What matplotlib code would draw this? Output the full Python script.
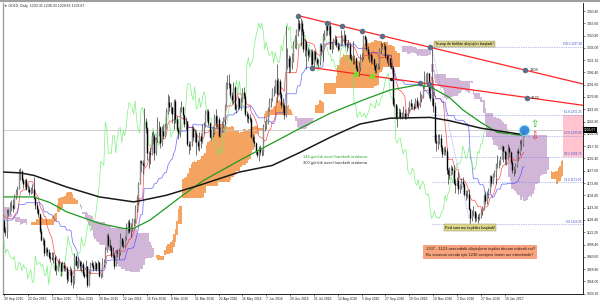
import numpy as np
import pandas as pd
import matplotlib
matplotlib.use("Agg")
import matplotlib.pyplot as plt
from matplotlib.transforms import blended_transform_factory

plt.rcParams['font.family'] = ['Liberation Sans', 'DejaVu Sans']

# closes before the visible window (Jun 8 - Sep 29 2015), only used to warm up the Ichimoku lines
pre_close = [1173, 1185, 1186, 1179, 1180, 1185, 1180, 1180, 1202, 1201,
             1185, 1176, 1175, 1172, 1174, 1179, 1172, 1169, 1167, 1168,
             1173, 1155, 1158, 1160, 1159, 1155, 1155, 1150, 1146, 1133,
             1106, 1103, 1093, 1091, 1086, 1096, 1094, 1096, 1088, 1095,
             1086, 1089, 1085, 1090, 1094, 1104, 1108, 1123, 1115, 1113,
             1118, 1117, 1128, 1153, 1159, 1154, 1138, 1125, 1124, 1134,
             1132, 1140, 1134, 1124, 1121, 1120, 1121, 1103, 1110, 1103,
             1108, 1103, 1119, 1117, 1137, 1132, 1124, 1131, 1153, 1146,
             1132, 1127]

# daily bars 30 Sep 2015 - 7 Feb 2017, one row per 16-bar date label
close = [1115, 1114, 1137, 1137, 1146, 1146, 1143, 1156, 1163, 1166, 1187, 1187, 1177, 1172, 1176, 1166,
         1166, 1162, 1166, 1166, 1155, 1146, 1142, 1135, 1115, 1104, 1104, 1088, 1093, 1090, 1084, 1082,
         1081, 1084, 1068, 1068, 1077, 1076, 1067, 1074, 1070, 1070, 1057, 1064, 1068, 1053, 1054, 1085,
         1074, 1076, 1077, 1072, 1075, 1063, 1061, 1073, 1050, 1065, 1076, 1074, 1069, 1076, 1069, 1077,
         1060, 1061, 1075, 1078, 1092, 1109, 1098, 1096, 1086, 1086, 1073, 1089, 1088, 1089, 1107, 1098,
         1097, 1107, 1120, 1126, 1115, 1117, 1128, 1129, 1141, 1156, 1172, 1199, 1197, 1194, 1247, 1239,
         1209, 1209, 1208, 1230, 1230, 1209, 1226, 1238, 1240, 1221, 1236, 1230, 1241, 1259, 1270, 1265,
         1264, 1256, 1272, 1250, 1238, 1233, 1262, 1264, 1255, 1244, 1248, 1220, 1217, 1222, 1239, 1228,
         1233, 1222, 1218, 1230, 1223, 1238, 1243, 1257, 1260, 1245, 1228, 1234, 1234, 1254, 1245, 1250,
         1230, 1238, 1243, 1250, 1266, 1292, 1293, 1292, 1279, 1273, 1289, 1262, 1265, 1276, 1264, 1272,
         1283, 1278, 1256, 1254, 1251, 1250, 1228, 1224, 1221, 1212, 1206, 1215, 1210, 1210, 1242, 1244,
         1247, 1262, 1270, 1275, 1285, 1285, 1297, 1280, 1296, 1280, 1267, 1266, 1255, 1315, 1324, 1313,
         1318, 1321, 1339, 1349, 1357, 1366, 1359, 1366, 1356, 1334, 1343, 1333, 1327, 1329, 1332, 1317,
         1331, 1323, 1318, 1320, 1339, 1332, 1350, 1352, 1366, 1357, 1362, 1335, 1339, 1346, 1347, 1340,
         1335, 1339, 1347, 1349, 1351, 1340, 1338, 1340, 1324, 1323, 1322, 1324, 1312, 1308, 1313, 1324,
         1326, 1350, 1347, 1334, 1328, 1328, 1320, 1322, 1315, 1309, 1313, 1314, 1333, 1336, 1338, 1338,
         1326, 1321, 1324, 1315, 1313, 1268, 1268, 1252, 1256, 1259, 1253, 1254, 1257, 1251, 1256, 1261,
         1269, 1266, 1266, 1263, 1273, 1266, 1267, 1276, 1277, 1288, 1297, 1302, 1305, 1281, 1275, 1275,
         1266, 1224, 1221, 1226, 1227, 1216, 1208, 1213, 1212, 1188, 1184, 1183, 1191, 1188, 1173, 1170,
         1177, 1165, 1170, 1175, 1171, 1160, 1158, 1160, 1142, 1130, 1134, 1139, 1131, 1132, 1130, 1133,
         1139, 1141, 1158, 1151, 1160, 1163, 1181, 1173, 1184, 1186, 1196, 1196, 1196, 1203, 1217, 1211,
         1202, 1205, 1215, 1210, 1198, 1189, 1190, 1195, 1211, 1209, 1220, 1220, 1232, 1236.67]

high = [1129, 1120, 1142, 1142, 1150, 1152, 1154, 1160, 1166, 1169, 1190, 1191, 1189, 1179, 1178, 1179,
        1172, 1169, 1168, 1171, 1180, 1157, 1150, 1143, 1136, 1119, 1108, 1107, 1095, 1095, 1093, 1090,
        1089, 1090, 1086, 1074, 1080, 1082, 1077, 1079, 1077, 1073, 1072, 1066, 1073, 1070, 1062, 1088,
        1085, 1079, 1083, 1080, 1079, 1078, 1066, 1080, 1073, 1068, 1078, 1080, 1077, 1079, 1078, 1080,
        1077, 1064, 1082, 1081, 1095, 1111, 1113, 1105, 1098, 1095, 1088, 1092, 1093, 1094, 1112, 1107,
        1104, 1109, 1125, 1128, 1129, 1124, 1131, 1131, 1146, 1158, 1174, 1200, 1201, 1200, 1263, 1251,
        1240, 1212, 1216, 1234, 1235, 1232, 1228, 1253, 1248, 1242, 1242, 1244, 1245, 1263, 1280, 1278,
        1271, 1265, 1274, 1274, 1254, 1241, 1264, 1272, 1266, 1256, 1253, 1248, 1224, 1224, 1242, 1242,
        1238, 1237, 1225, 1234, 1233, 1244, 1247, 1261, 1262, 1262, 1246, 1237, 1241, 1256, 1262, 1255,
        1252, 1241, 1248, 1252, 1268, 1295, 1303, 1304, 1294, 1283, 1295, 1290, 1268, 1278, 1276, 1277,
        1287, 1289, 1281, 1260, 1257, 1256, 1252, 1232, 1229, 1222, 1213, 1218, 1219, 1214, 1244, 1248,
        1250, 1265, 1275, 1276, 1288, 1290, 1298, 1316, 1299, 1298, 1283, 1275, 1268, 1362, 1336, 1327,
        1326, 1330, 1344, 1351, 1359, 1375, 1369, 1372, 1370, 1359, 1347, 1345, 1337, 1334, 1334, 1335,
        1333, 1333, 1325, 1323, 1342, 1342, 1354, 1357, 1368, 1366, 1364, 1368, 1343, 1348, 1352, 1350,
        1343, 1342, 1357, 1352, 1358, 1353, 1343, 1346, 1343, 1329, 1344, 1327, 1325, 1315, 1319, 1328,
        1330, 1352, 1352, 1349, 1338, 1331, 1330, 1327, 1324, 1313, 1318, 1318, 1336, 1343, 1342, 1343,
        1341, 1329, 1328, 1324, 1319, 1314, 1275, 1268, 1266, 1263, 1262, 1259, 1266, 1262, 1257, 1264,
        1272, 1274, 1269, 1269, 1275, 1277, 1271, 1284, 1280, 1291, 1308, 1306, 1307, 1306, 1290, 1337,
        1284, 1271, 1232, 1232, 1232, 1232, 1219, 1216, 1218, 1215, 1191, 1192, 1194, 1193, 1194, 1178,
        1180, 1186, 1172, 1179, 1180, 1173, 1164, 1164, 1165, 1143, 1140, 1145, 1139, 1137, 1135, 1137,
        1142, 1145, 1160, 1163, 1163, 1167, 1183, 1182, 1185, 1189, 1197, 1207, 1200, 1205, 1219, 1218,
        1212, 1210, 1220, 1218, 1212, 1200, 1193, 1197, 1213, 1215, 1225, 1226, 1235, 1238.33]

low = [1113, 1109, 1107, 1133, 1135, 1139, 1138, 1141, 1153, 1158, 1165, 1177, 1174, 1167, 1168, 1164,
       1162, 1158, 1160, 1161, 1153, 1142, 1137, 1132, 1112, 1103, 1098, 1085, 1086, 1085, 1081, 1078,
       1080, 1076, 1066, 1062, 1066, 1072, 1061, 1066, 1067, 1067, 1052, 1055, 1062, 1050, 1046, 1051,
       1072, 1069, 1070, 1068, 1065, 1061, 1058, 1059, 1047, 1049, 1063, 1071, 1067, 1068, 1067, 1068,
       1059, 1058, 1059, 1071, 1077, 1090, 1096, 1092, 1083, 1082, 1069, 1072, 1083, 1081, 1086, 1096,
       1094, 1095, 1104, 1113, 1112, 1108, 1115, 1121, 1124, 1138, 1146, 1171, 1186, 1184, 1192, 1233,
       1201, 1191, 1196, 1207, 1220, 1200, 1207, 1222, 1230, 1215, 1218, 1226, 1228, 1238, 1256, 1260,
       1257, 1245, 1238, 1245, 1235, 1226, 1228, 1259, 1250, 1241, 1238, 1218, 1208, 1213, 1217, 1224,
       1222, 1206, 1213, 1211, 1215, 1221, 1232, 1240, 1248, 1242, 1227, 1225, 1228, 1232, 1241, 1241,
       1228, 1228, 1236, 1239, 1243, 1266, 1286, 1287, 1276, 1269, 1268, 1261, 1257, 1262, 1262, 1261,
       1270, 1274, 1254, 1246, 1245, 1246, 1227, 1222, 1216, 1208, 1204, 1199, 1207, 1205, 1207, 1235,
       1238, 1244, 1260, 1264, 1272, 1278, 1282, 1271, 1279, 1276, 1263, 1258, 1250, 1252, 1310, 1306,
       1307, 1310, 1319, 1336, 1334, 1350, 1356, 1338, 1351, 1331, 1326, 1310, 1320, 1325, 1315, 1312,
       1312, 1320, 1315, 1313, 1315, 1327, 1320, 1345, 1350, 1351, 1351, 1334, 1330, 1335, 1340, 1337,
       1332, 1333, 1338, 1340, 1342, 1337, 1332, 1336, 1322, 1320, 1317, 1316, 1310, 1305, 1302, 1308,
       1320, 1323, 1340, 1332, 1323, 1319, 1317, 1318, 1311, 1306, 1306, 1310, 1311, 1330, 1334, 1334,
       1324, 1318, 1314, 1312, 1310, 1266, 1265, 1250, 1241, 1253, 1250, 1250, 1252, 1250, 1250, 1253,
       1259, 1262, 1262, 1261, 1263, 1265, 1262, 1265, 1270, 1275, 1287, 1295, 1293, 1276, 1272, 1267,
       1259, 1221, 1212, 1214, 1220, 1212, 1204, 1206, 1207, 1184, 1171, 1178, 1183, 1184, 1171, 1161,
       1169, 1160, 1161, 1166, 1168, 1157, 1152, 1155, 1140, 1124, 1127, 1133, 1126, 1127, 1125, 1128,
       1130, 1134, 1140, 1148, 1147, 1155, 1161, 1169, 1171, 1180, 1172, 1191, 1191, 1195, 1202, 1198,
       1196, 1194, 1204, 1207, 1196, 1185, 1181, 1185, 1192, 1199, 1207, 1213, 1218, 1229.65]

# moving averages (bar index, value)
ema144_bars = [0, 20, 31, 42, 64, 80, 87, 98, 109, 120, 134, 158, 180, 199, 219, 241, 259, 277, 286, 299, 308, 320, 331, 349]
ema144_vals = [1156, 1156, 1149, 1138, 1124, 1118, 1118, 1128, 1143, 1158, 1176, 1200, 1221, 1239, 1257, 1273, 1285, 1291, 1289, 1276, 1261, 1246, 1234, 1230]
ema300_bars = [0, 11, 20, 42, 64, 87, 93, 109, 131, 158, 180, 199, 219, 230, 239, 259, 286, 299, 320, 342, 349]
ema300_vals = [1186, 1185, 1182, 1168, 1156, 1150, 1152, 1158, 1170, 1186, 1194, 1210, 1228, 1237, 1244, 1251, 1252, 1248, 1239, 1233, 1231]

date_labels = ["30 Sep 2015", "22 Oct 2015", "13 Nov 2015", "7 Dec 2015", "30 Dec 2015", "22 Jan 2016",
               "15 Feb 2016", "8 Mar 2016", "31 Mar 2016", "22 Apr 2016", "16 May 2016", "7 Jun 2016",
               "29 Jun 2016", "21 Jul 2016", "12 Aug 2016", "5 Sep 2016", "27 Sep 2016", "19 Oct 2016",
               "10 Nov 2016", "2 Dec 2016", "27 Dec 2016", "19 Jan 2017"]
price_ticks = [1380.40, 1365.60, 1350.80, 1336.00, 1321.20, 1306.40, 1291.60, 1276.80, 1261.60, 1246.80,
               1232.00, 1217.20, 1202.40, 1187.60, 1172.80, 1158.00, 1143.20, 1128.40, 1113.20, 1098.40,
               1083.60, 1068.80, 1054.00, 1039.20]

# trend lines: two anchor points each (bar, price)
upper_line = ([197, 350], [1375, 1309])
lower_line = ([207, 351], [1312, 1276])
upper_touch = [197, 217, 227, 240, 254, 286]
lower_touch_grey = [207, 279, 285]
lower_touch_green = [236, 247]
lower_touch_black = [260]

fib_high, fib_low = 1337.0, 1123.0
fib_bars = [287, 313]
fib_levels = [0.0, 23.6, 38.2, 50.0, 61.8, 100.0]

# ---------------------------------------------------------------
n_pre = len(pre_close)
hi = pd.Series(pre_close + high, dtype=float)
lo = pd.Series(pre_close + low, dtype=float)
cl = pd.Series(pre_close + close, dtype=float)
bar = np.arange(len(cl)) - n_pre

tenkan = (hi.rolling(9).max() + lo.rolling(9).min()) / 2
kijun = (hi.rolling(26).max() + lo.rolling(26).min()) / 2
span_a = ((tenkan + kijun) / 2).values
span_b = ((hi.rolling(52).max() + lo.rolling(52).min()) / 2).values

fig = plt.figure(figsize=(6, 3.03), dpi=100)
ax = fig.add_axes([3 / 600, 9 / 303, 580 / 600, 291 / 303])
x_right = 388.6
ax.set_xlim(-0.67, x_right)
ax.set_ylim(1038.8, 1390.1)

# cloud
xs = bar + 26
m = xs >= -2
a, b = span_a[m], span_b[m]
ax.fill_between(xs[m], a, b, where=a >= b, color='#f4a460', lw=0, step='mid', zorder=1)
ax.fill_between(xs[m], a, b, where=a < b, color='#d2b6d8', lw=0, step='mid', zorder=1)

# current price line
last = close[-1]
ax.axhline(last, color='#c8c8c8', lw=0.6, zorder=1)

# fibonacci
fib_price = [fib_low + lv / 100 * (fib_high - fib_low) for lv in fib_levels]
pink_start = len(close) - 1 + 26 + 0.5
ax.fill_between([pink_start, x_right], fib_price[2], fib_price[4], color='#ffc4cf', lw=0, zorder=1)
for lv, p in zip(fib_levels, fib_price):
    ax.plot([fib_bars[0], x_right], [p, p], ls=(0, (1, 1.5)), color='#7080e0', lw=0.5, zorder=2)
    ax.text(x_right - 1, p + 0.6, f"{lv:.1f} {p:.2f}", fontsize=2.2, color='#4050d0',
            ha='right', va='bottom', zorder=5)
ax.plot(fib_bars, [fib_high, fib_low], ls=(0, (1, 1.5)), color='#7080e0', lw=0.5, zorder=2)

# ichimoku lines
v = bar >= -1
ax.plot(bar[v], tenkan.values[v], color='#ff2020', lw=0.5, alpha=0.8, zorder=3)
ax.plot(bar[v], kijun.values[v], color='#3535ff', lw=0.5, alpha=0.75, zorder=3)
cb = bar - 26
cv = cb >= -1
ax.plot(cb[cv], cl.values[cv], color='#66ee66', lw=0.5, alpha=0.85, zorder=3)

# candles
i = np.arange(len(close))
c = np.array(close)
o = np.array([pre_close[-1]] + close[:-1])
ax.vlines(i, low, high, color='#202020', lw=0.45, zorder=4)
up = c >= o
ax.vlines(i[up], o[up], c[up], color='#8c8c8c', lw=1.0, zorder=4)
ax.vlines(i[~up], o[~up], c[~up], color='#000000', lw=1.0, zorder=4)

# moving averages
ax.plot(ema144_bars, ema144_vals, color='#1f9a1f', lw=0.9, zorder=5)
ax.plot(ema300_bars, ema300_vals, color='#1a1a1a', lw=1.1, zorder=5)

# trend lines
def line_at(line, x):
    (x0, x1), (y0, y1) = line
    return y0 + (np.asarray(x, float) - x0) * (y1 - y0) / (x1 - x0)

for ln in (upper_line, lower_line):
    xx = np.array([ln[0][0], x_right])
    ax.plot(xx, line_at(ln, xx), color='#ff2424', lw=0.9, zorder=6)

ax.scatter(upper_touch, line_at(upper_line, upper_touch), s=16, color='#5d6f86', zorder=7, lw=0)
ax.scatter(lower_touch_grey, line_at(lower_line, lower_touch_grey), s=16, color='#5d6f86', zorder=7, lw=0)
ax.scatter(lower_touch_green, line_at(lower_line, lower_touch_green), s=16, color='#86d52a', zorder=7, lw=0)
ax.scatter(lower_touch_black, line_at(lower_line, lower_touch_black), s=6, color='#202020', zorder=7, lw=0)
for ln in (upper_line, lower_line):
    xb = ln[0][1]
    yb = ln[1][1]
    ax.scatter([xb], [yb], s=16, color='#5d6f86', zorder=7, lw=0)
    ax.text(xb + 2.5, yb, f"{yb:.0f}", fontsize=2.8, va='center', ha='left', color='#222222', zorder=7)

# last bar marker and arrows
ax.scatter([len(close) - 1], [last], s=55, color='#2a80d8', edgecolor='#8fe0f5', lw=0.8, alpha=0.9, zorder=8)
ax.text(356, last + 1, '\u21e7', fontsize=7, color='#30b030', ha='center', va='bottom', zorder=8,
        family=['DejaVu Sans'])
ax.text(356, last - 1, '\u21e9', fontsize=7, color='#e02020', ha='center', va='top', zorder=8,
        family=['DejaVu Sans'])

# annotations
ax.text(289.5, 1341, "Trump ile birlikte düşüşler başladı!", fontsize=2.8, ha='left', va='center',
        zorder=9, bbox=dict(boxstyle='square,pad=0.3', fc='#dcd68e', ec='#8a8550', lw=0.3))
ax.text(201, 1204, "144 günlük üssel hareketli ortalama", fontsize=3.0, color='#2ea82e',
        ha='left', va='center', zorder=9)
ax.text(201, 1197, "300 günlük üssel hareketli ortalama", fontsize=3.0, color='#333333',
        ha='left', va='center', zorder=9)
ax.text(296, 1119, "Fed sonrası tepkiler başladı!", fontsize=2.9, ha='left', va='center',
        zorder=9, bbox=dict(boxstyle='square,pad=0.3', fc='#dcd68e', ec='#8a8550', lw=0.3))
ax.text(283, 1089.5, "1337 - 1123 arasındaki düşüşlerin tepkisi devam edecek mi?\n"
        "Bu sorunun cevabı için 1230 seviyesi önem arz etmektedir!", fontsize=3.0,
        ha='left', va='center', color='#2a1a10', linespacing=1.4, zorder=9,
        bbox=dict(boxstyle='square,pad=0.6', fc='#f8a27e', ec='none'))

# axes styling
ax.yaxis.tick_right()
ax.set_yticks(price_ticks)
ax.set_yticklabels([f"{p:.2f}" for p in price_ticks])
ax.set_xticks(np.arange(len(date_labels)) * 16)
ax.set_xticklabels(date_labels, ha='left')
ax.tick_params(axis='both', labelsize=2.4, length=1.5, width=0.4, pad=1, colors='#222222')
ax.spines['top'].set_visible(False)
ax.spines['left'].set_color('#a0a0a0')
ax.spines['left'].set_linewidth(1.0)
ax.spines['right'].set_linewidth(0.6)
ax.spines['bottom'].set_linewidth(0.6)

trans = blended_transform_factory(ax.transAxes, ax.transData)
ax.text(1.002, last, f"{last:.2f}", transform=trans, fontsize=2.4, color='white', ha='left',
        va='center', zorder=10, clip_on=False,
        bbox=dict(boxstyle='square,pad=0.25', fc='black', ec='none'))

fig.add_artist(plt.Line2D([0, 1], [0.996, 0.996], color='#a0a0a0', lw=1.5))
fig.text(4 / 600, 1 - 5.5 / 303, "\u25bc GOLD, Daily  1233.31 1238.33 1229.65 1236.67", fontsize=2.5,
         va='center', ha='left', color='#222222')

fig.savefig("out.png", dpi=100, facecolor='white')
